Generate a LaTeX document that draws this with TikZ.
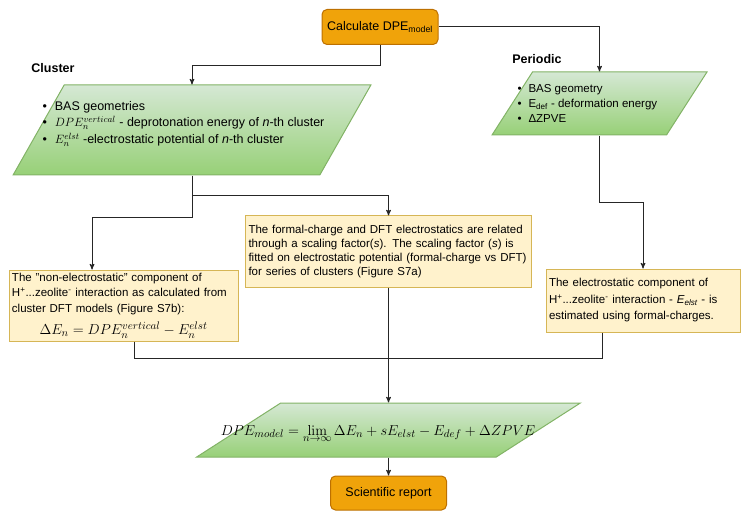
\documentclass[tikz,border=0pt]{standalone}
\usepackage[no-math]{fontspec}
\setmainfont{Liberation Sans}
\usetikzlibrary{arrows,shapes.geometric}

\definecolor{orangefill}{HTML}{F0A30A}
\definecolor{orangeline}{HTML}{BD7000}
\definecolor{yellowfill}{HTML}{FFF2CC}
\definecolor{yellowline}{HTML}{D6B656}
\definecolor{greentop}{HTML}{D5E8D4}
\definecolor{greenbottom}{HTML}{97D077}
\definecolor{greenline}{HTML}{82B366}

\begin{document}
\begin{tikzpicture}[
  x=1pt,
  y=-1pt,
  >=stealth',
  line width=1pt,
  font=\fontsize{11.5}{15.5}\selectfont,
  calcbox/.style={
    draw=orangeline,
    fill=orangefill,
    rounded corners=5pt,
    minimum width=116pt,
    minimum height=35pt,
    font=\fontsize{12.5}{15}\selectfont
  },
  iobox/.style={
    trapezium,
    trapezium stretches=true,
    draw=greenline,
    top color=greentop,
    bottom color=greenbottom
  },
  notebox/.style={
    draw=yellowline,
    fill=yellowfill,
    align=left,
    inner xsep=3pt,
    inner ysep=0pt
  },
  label/.style={font=\fontsize{12.5}{15}\selectfont\bfseries},
  wire/.style={draw=black!85}
  ]

  \useasboundingbox (0,0) rectangle (749,521);

  \node [calcbox] (calc) at (380,27) {Calculate DPE\textsubscript{model}};

  \node [label] (clusterlbl) at (53,68) {Cluster};
  \node [label] (periodiclbl) at (537,59) {Periodic};

  \node [iobox, trapezium left angle=78.7, trapezium right angle=101.3, minimum width=358, minimum height=90] (cluster) at (192,130) {};
  \node [anchor=west, inner sep=0, font=\fontsize{12.5}{15}\selectfont] at (42,124) {\begin{tabular}{@{}l@{\hspace{8pt}}l@{}}
  \textbullet & BAS geometries \\[1.5pt]
  \textbullet & $DPE_n^{vertical}$ - deprotonation energy of \emph{n}-th cluster \\[1.5pt]
  \textbullet & $E_n^{elst}$ -electrostatic potential of \emph{n}-th cluster
  \end{tabular}};

  \node [iobox, trapezium left angle=73.2, trapezium right angle=106.8, minimum width=215, minimum height=63] (periodic) at (599.5,103.5) {};
  \node [anchor=west, inner sep=0, font=\fontsize{11.5}{15}\selectfont] at (517,105) {\begin{tabular}{@{}l@{\hspace{7pt}}l@{}}
  \textbullet & BAS geometry \\
  \textbullet & E\textsubscript{def} - deformation energy \\
  \textbullet & ΔZPVE
  \end{tabular}};

  \node [notebox, text width=223, minimum height=71] (nonelst) at (123.5,305.5) {The "non-electrostatic" component of\\
  H\textsuperscript{+}...zeolite\textsuperscript{-} interaction as calculated from\\
  cluster DFT models (Figure S7b):\\[7pt]
  \makebox[223pt]{\fontsize{15}{17}\selectfont$\Delta E_n = DPE_n^{vertical} - E_n^{elst}$}};

  \node [notebox, font=\fontsize{11.5}{13.7}\selectfont, text width=280, minimum height=71] (scaling) at (388.5,251.5) {The formal-charge and DFT electrostatics are related\\
  through a scaling factor(\emph{s}). The scaling factor (\emph{s}) is\\
  fitted on electrostatic potential (formal-charge vs DFT)\\
  for series of clusters (Figure S7a)};

  \node [notebox, font=\fontsize{11.5}{16.5}\selectfont, text width=188, minimum height=63] (elst) at (643,300.5) {The electrostatic component of\\
  H\textsuperscript{+}...zeolite\textsuperscript{-} interaction - \emph{E\textsubscript{elst}} - is\\
  estimated using formal-charges.};

  \node [iobox, trapezium left angle=68.7, trapezium right angle=111.3, minimum width=384, minimum height=54] (dpe) at (388.5,430) {};
  \node [anchor=base, font=\fontsize{15.5}{18}\selectfont] at (378,435) {$DPE_{model} = \lim\limits_{n\to\infty} \Delta E_n + sE_{elst} - E_{def} + \Delta ZPVE$};

  \node [calcbox, minimum height=34pt] (report) at (388.5,493) {Scientific report};

  \draw [wire, ->] (calc.south) -- ++(0,21) -| (cluster.north);
  \draw [wire, ->] (calc.east) -| (periodic.north);
  \draw [wire, ->] (cluster.south) -- ++(0,20) -| (scaling.north);
  \draw [wire, ->] (cluster.south) -- ++(0,42) -| ([xshift=-31.5pt]nonelst.north);
  \draw [wire, ->] (periodic.south) -- ++(0,67) -| (elst.north);
  \draw [wire, ->] (scaling.south) -- (dpe.north);
  \draw [wire] ([xshift=10.5pt]nonelst.south) -- ++(0,17) -| (dpe.north);
  \draw [wire] ([xshift=-41pt]elst.south) -- ++(0,26) -| (dpe.north);
  \draw [wire, ->] (dpe.south) -- (report.north);

\end{tikzpicture}
\end{document}
